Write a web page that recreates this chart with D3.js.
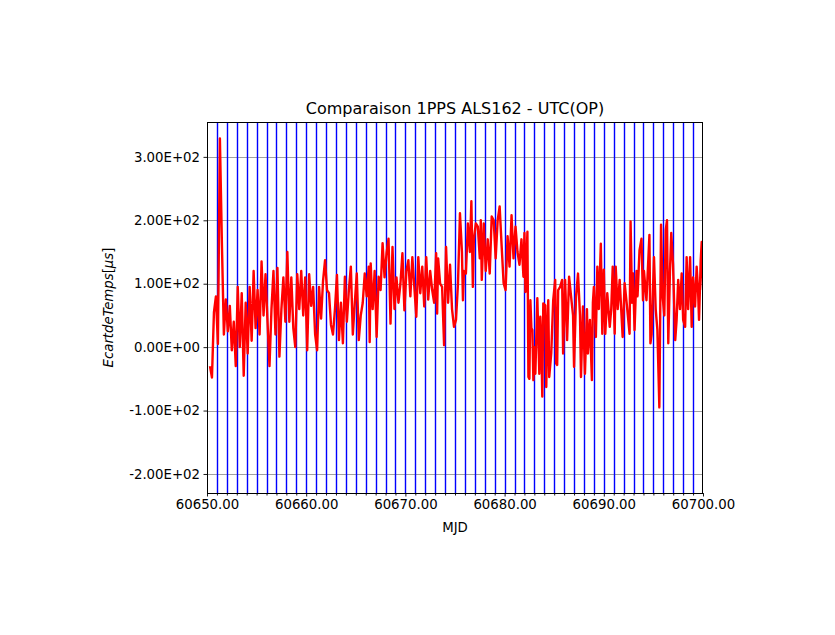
<!DOCTYPE html>
<html><head><meta charset="utf-8">
<script src="https://cdn.jsdelivr.net/npm/d3@7"></script>
<style>body{margin:0;background:#fff}svg{display:block}text{font-family:"DejaVu Sans",sans-serif}</style>
</head><body>
<script>
const title = "Comparaison 1PPS ALS162 - UTC(OP)";
const xLabel = "MJD";
const xTicks = [60650, 60660, 60670, 60680, 60690, 60700];
const yTicks = [-200, -100, 0, 100, 200, 300];
const dayLines = d3.range(60651, 60700); // blue markers every day
const mjd = [
60650.3,60650.5,60650.7,60650.9,60651.1,60651.3,60651.5,60651.7,60651.9,60652.1,60652.3,60652.5,60652.7,60652.9,60653.1,60653.3,60653.5,60653.7,60653.9,60654.1,60654.3,60654.5,60654.7,60654.9,60655.1,60655.3,60655.5,60655.7,60655.9,60656.1,
60656.3,60656.5,60656.7,60656.9,60657.1,60657.3,60657.5,60657.7,60657.9,60658.1,60658.3,60658.5,60658.7,60658.9,60659.1,60659.3,60659.5,60659.7,60659.9,60660.1,60660.3,60660.5,60660.7,60660.9,60661.1,60661.3,60661.5,60661.7,60661.9,60662.1,60662.3,60662.5,60662.7,
60662.9,60663.1,60663.3,60663.5,60663.7,60663.9,60664.1,60664.3,60664.5,60664.7,60664.9,60665.1,60665.3,60665.5,60665.7,60665.9,60666.1,60666.3,60666.4,60666.5,60666.7,60666.9,60667.1,60667.3,60667.5,60667.7,60667.9,60668.1,60668.3,60668.5,60668.7,60668.9,60669.1,60669.3,
60669.5,60669.7,60669.9,60670.1,60670.3,60670.5,60670.7,60670.9,60671.1,60671.3,60671.5,60671.7,60671.9,60672.1,60672.3,60672.5,60672.7,60672.9,60673.1,60673.2,60673.3,60673.5,60673.7,60673.9,60674.1,60674.3,60674.5,60674.7,60674.9,60675.1,60675.3,60675.5,
60675.7,60675.8,60675.9,60676.1,60676.3,60676.5,60676.65,60676.8,60676.9,60677.1,60677.3,60677.5,60677.6,60677.7,60677.9,60678.1,60678.3,60678.5,60678.7,60678.9,60679.1,60679.3,60679.5,60679.7,60679.9,60680.1,60680.3,60680.5,60680.7,60680.9,60681.1,60681.3,60681.5,60681.7,60681.9,60682.0,60682.1,60682.3,
60682.4,60682.5,60682.6,60682.7,60682.8,60682.9,60683.0,60683.1,60683.3,60683.5,60683.6,60683.7,60683.8,60683.9,60684.1,60684.2,60684.3,60684.4,60684.5,60684.7,60684.9,60685.1,60685.2,60685.3,60685.4,60685.6,60685.8,60685.9,60686.1,60686.3,60686.5,60686.7,60686.9,60687.0,60687.2,60687.4,60687.6,60687.7,60687.9,60688.1,60688.3,60688.4,60688.6,60688.8,60688.9,60689.0,
60689.2,60689.35,60689.5,60689.7,60689.85,60690.0,60690.15,60690.35,60690.6,60690.75,60690.9,60691.1,60691.2,60691.4,60691.6,60691.9,60692.1,60692.3,60692.6,60692.7,60692.85,60692.95,60693.1,60693.3,60693.4,60693.6,60693.8,60693.95,60694.05,60694.3,60694.6,60694.7,
60694.82,60695.06,60695.23,60695.4,60695.6,60695.77,60695.93,60696.1,60696.24,60696.37,60696.5,60696.67,60696.8,60696.98,60697.2,60697.34,60697.5,60697.68,60697.85,60698.0,60698.2,60698.35,60698.5,60698.7,60698.86,60699.0,60699.2,60699.36,60699.5,60699.6,60699.77,60699.87,60700.0
];
const ecart = [
-30,-48,55,80,5,329,165,20,75,25,65,-5,40,-30,95,0,85,-45,70,-10,95,10,120,30,90,20,135,50,115,40,
-30,60,120,20,125,-15,60,110,40,150,40,110,30,0,115,60,120,50,110,-5,115,65,95,20,-5,95,45,105,137,90,85,35,20,
60,114,11,70,6,111,40,90,127,20,70,116,11,50,70,116,80,127,8,132,60,120,16,111,90,164,110,148,171,37,158,60,110,70,
100,148,58,120,137,80,142,95,48,142,85,127,64,142,75,120,90,70,148,53,140,100,95,3,158,70,130,60,32,43,100,211,
150,74,120,116,195,150,230,95,170,195,190,140,200,106,195,120,170,116,206,200,140,200,222,160,101,90,175,127,208,140,190,150,130,170,111,180,87,182,
-47,-50,74,30,27,-52,0,-42,77,-42,48,10,-78,69,66,-63,20,74,-47,-10,74,106,-26,-28,90,95,106,-10,106,11,111,80,50,-31,80,116,50,-47,64,-42,60,-10,43,-52,70,95,
16,127,60,163,21,122,21,85,32,60,127,21,127,60,106,16,101,70,21,198,70,116,27,120,80,153,171,74,120,74,177,6,
20,142,60,27,-95,193,80,50,185,200,6,120,180,130,11,43,106,60,116,43,32,142,60,142,32,110,64,127,90,43,137,166,90
];

const W = 835, H = 635;
const m = {left: 207, right: 703, top: 122, bottom: 493};
const svg = d3.select("body").append("svg").attr("width", W).attr("height", H);
const x = d3.scaleLinear().domain([60650, 60700]).range([m.left, m.right]);
const y = d3.scaleLinear().domain([-230, 355]).range([m.bottom, m.top]);

const fmtY = v => {
  if (v === 0) return "0.00E+00";
  const e = Math.floor(Math.log10(Math.abs(v)));
  const mant = v / Math.pow(10, e);
  return mant.toFixed(2) + "E" + (e < 0 ? "-" : "+") + String(Math.abs(e)).padStart(2, "0");
};

svg.append("defs").append("clipPath").attr("id", "clip")
  .append("rect").attr("x", m.left).attr("y", m.top).attr("width", m.right - m.left).attr("height", m.bottom - m.top);

// grid
svg.append("g").selectAll("line").data(yTicks).join("line")
  .attr("x1", m.left).attr("x2", m.right)
  .attr("y1", d => Math.round(y(d)) + 0.5).attr("y2", d => Math.round(y(d)) + 0.5)
  .attr("stroke", "#a0a0a0").attr("stroke-width", 1);

// blue day lines
svg.append("g").selectAll("line").data(dayLines).join("line")
  .attr("x1", d => Math.round(x(d)) + 0.5).attr("x2", d => Math.round(x(d)) + 0.5)
  .attr("y1", m.top).attr("y2", m.bottom)
  .attr("stroke", "rgb(0,0,255)").attr("stroke-width", 1.4);

// red line
const pts = mjd.map((t, i) => [t, ecart[i]]);
svg.append("path").datum(pts)
  .attr("clip-path", "url(#clip)")
  .attr("fill", "none").attr("stroke", "#ff0000").attr("stroke-width", 2.4)
  .attr("stroke-linejoin", "round")
  .attr("d", d3.line().x(d => x(d[0])).y(d => y(d[1])));

// axes
const xAxis = d3.axisBottom(x).tickValues(xTicks).tickFormat(d => d.toFixed(2)).tickSize(3.5).tickPadding(3.5);
const gx = svg.append("g").attr("transform", `translate(0,${m.bottom})`).call(xAxis);
const xMinor = d3.axisBottom(x).tickValues(d3.range(60651, 60700).filter(d => d % 10 !== 0)).tickFormat("").tickSize(2.5);
const gm = svg.append("g").attr("transform", `translate(0,${m.bottom})`).call(xMinor);
const yAxis = d3.axisLeft(y).tickValues(yTicks).tickFormat(fmtY).tickSize(3.5).tickPadding(3.5);
const gy = svg.append("g").attr("transform", `translate(${m.left},0)`).call(yAxis);
[gx, gy, gm].forEach(g => {
  g.selectAll("text").attr("font-size", "13.3px").attr("fill", "#000").attr("font-family", "DejaVu Sans");
  g.selectAll("line").attr("stroke", "#000").attr("stroke-width", 0.9);
  g.select(".domain").remove();
});

// frame
svg.append("rect").attr("x", m.left + 0.5).attr("y", m.top + 0.5)
  .attr("width", m.right - m.left - 1).attr("height", m.bottom - m.top)
  .attr("fill", "none").attr("stroke", "#000").attr("stroke-width", 1);

// title and labels
svg.append("text").attr("x", (m.left + m.right) / 2).attr("y", 114)
  .attr("text-anchor", "middle").attr("font-size", "16px").text(title);
svg.append("text").attr("x", (m.left + m.right) / 2).attr("y", 532)
  .attr("text-anchor", "middle").attr("font-size", "13.3px").text(xLabel);
const yl = svg.append("text").attr("transform", `translate(113,${(m.top + m.bottom) / 2}) rotate(-90)`)
  .attr("text-anchor", "middle").attr("font-size", "13.3px");
yl.append("tspan").attr("font-style", "italic").text("EcartdeTemps");
yl.append("tspan").text("[");
yl.append("tspan").attr("font-style", "italic").text("μs");
yl.append("tspan").text("]");
</script>
</body></html>
